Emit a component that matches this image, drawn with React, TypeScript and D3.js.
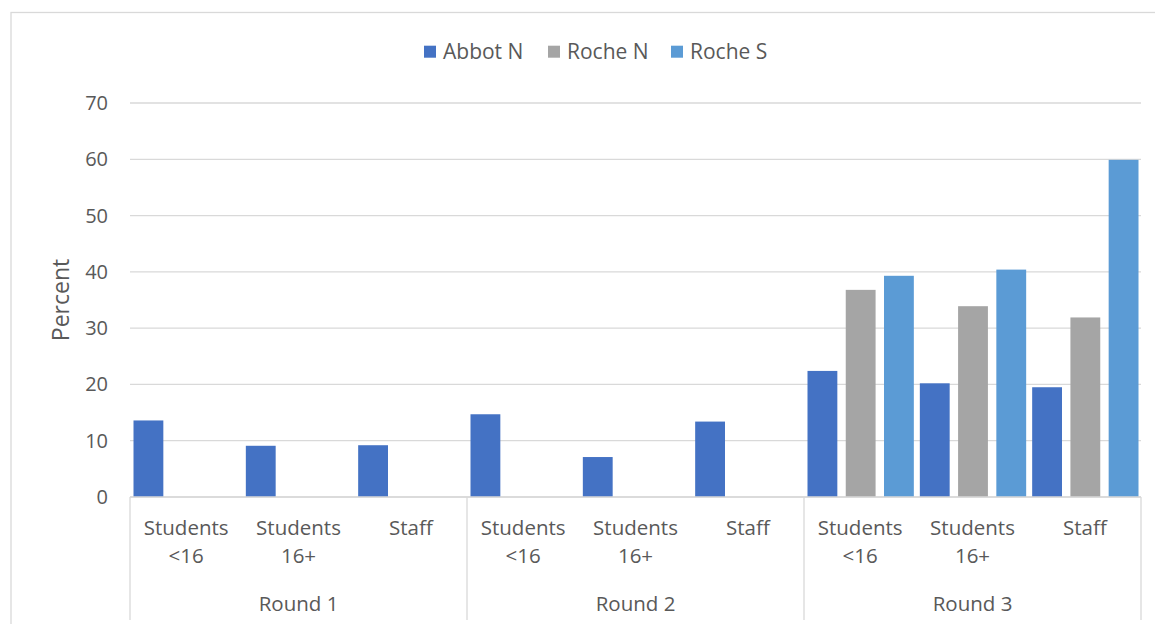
import React from 'react'
import * as d3 from 'd3'

const rounds = ['Round 1', 'Round 2', 'Round 3']
const groups = [['Students', '<16'], ['Students', '16+'], ['Staff']]
const seriesNames = ['Abbot N', 'Roche N', 'Roche S']
const seriesColors = ['#4472C4', '#A5A5A5', '#5B9BD5']

// one value per round x group, null where the series has no bar
const abbotN = [13.6, 9.1, 9.2, 14.7, 7.1, 13.4, 22.4, 20.2, 19.5]
const rocheN = [null, null, null, null, null, null, 36.8, 33.9, 31.9]
const rocheS = [null, null, null, null, null, null, 39.3, 40.4, 59.9]
const yTicks = [0, 10, 20, 30, 40, 50, 60, 70]

const seriesValues = [abbotN, rocheN, rocheS]

const width = 1155
const height = 624
const margin = { top: 103, right: 14, bottom: 127, left: 130 }
const font = "'Open Sans', sans-serif"
const textColor = '#595959'
const gridColor = '#D9D9D9'

export default function App() {
  const cats = rounds.flatMap((r, ri) => groups.map((g, gi) => `${ri}-${gi}`))

  const x0 = d3
    .scaleBand<string>()
    .domain(cats)
    .range([margin.left, width - margin.right])
  const x1 = d3
    .scaleBand<string>()
    .domain(seriesNames)
    .range([3.5, x0.bandwidth() - 2.5])
    .paddingInner(0.22)
  const y = d3
    .scaleLinear()
    .domain([0, 70])
    .range([height - margin.bottom, margin.top])

  const roundWidth = x0.bandwidth() * groups.length
  const axisBottom = y(0)

  return (
    <svg
      width={width}
      height={height}
      style={{ position: 'absolute', left: 0, top: 0, background: '#fff' }}
      fontFamily={font}
    >
      {/* chart frame */}
      <rect x={11} y={12.5} width={1200} height={700} fill="none" stroke={gridColor} strokeWidth={1.3} />

      {/* legend */}
      {seriesNames.map((s, i) => {
        const lx = [424, 548, 671][i]
        return (
          <g key={s}>
            <rect x={lx} y={45.7} width={12} height={12} fill={seriesColors[i]} />
            <text x={lx + 19} y={58.5} fontSize={21} fill={textColor}>
              {s}
            </text>
          </g>
        )
      })}

      {/* gridlines and y ticks */}
      {yTicks.map((t) => (
        <g key={t}>
          <line
            x1={margin.left}
            x2={width - margin.right}
            y1={y(t)}
            y2={y(t)}
            stroke={gridColor}
            strokeWidth={1.3}
          />
          <text x={108} y={y(t) + 7} textAnchor="end" fontSize={20} fill={textColor}>
            {t}
          </text>
        </g>
      ))}

      <text
        transform={`translate(69, ${(y(0) + y(70)) / 2}) rotate(-90)`}
        textAnchor="middle"
        fontSize={23}
        fill={textColor}
      >
        Percent
      </text>

      {/* bars */}
      {seriesNames.map((s, si) =>
        seriesValues[si].map((v, ci) =>
          v == null ? null : (
            <rect
              key={`${s}-${ci}`}
              x={(x0(cats[ci]) ?? 0) + (x1(s) ?? 0)}
              y={y(v)}
              width={x1.bandwidth()}
              height={y(0) - y(v)}
              fill={seriesColors[si]}
            />
          )
        )
      )}

      {/* category axis */}
      <line
        x1={margin.left}
        x2={width - margin.right}
        y1={axisBottom}
        y2={axisBottom}
        stroke={gridColor}
        strokeWidth={1.3}
      />
      {d3.range(rounds.length + 1).map((i) => {
        const lx = margin.left + i * roundWidth
        return <line key={i} x1={lx} x2={lx} y1={axisBottom} y2={620} stroke={gridColor} strokeWidth={1.3} />
      })}
      {cats.map((c, ci) => {
        const lines = groups[ci % groups.length]
        const cx = (x0(c) ?? 0) + x0.bandwidth() / 2
        return lines.map((ln, li) => (
          <text key={`${c}-${li}`} x={cx} y={535 + li * 28} textAnchor="middle" fontSize={20.5} fill={textColor}>
            {ln}
          </text>
        ))
      })}
      {rounds.map((r, ri) => (
        <text
          key={r}
          x={margin.left + ri * roundWidth + roundWidth / 2}
          y={611}
          textAnchor="middle"
          fontSize={20.5}
          fill={textColor}
        >
          {r}
        </text>
      ))}
    </svg>
  )
}
